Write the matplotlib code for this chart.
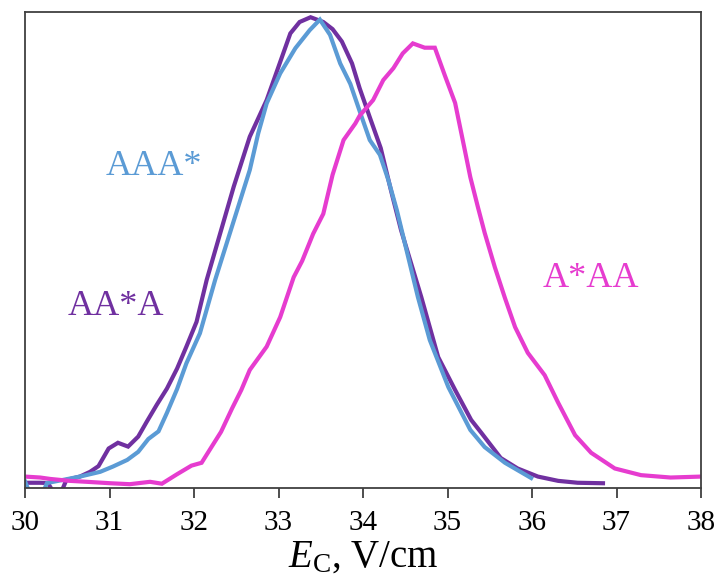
import matplotlib
matplotlib.use("Agg")
import matplotlib.pyplot as plt

plt.rcParams['font.family'] = ['Liberation Serif', 'DejaVu Serif']
plt.rcParams['mathtext.fontset'] = 'custom'
plt.rcParams['mathtext.rm'] = 'Liberation Serif'
plt.rcParams['mathtext.it'] = 'Liberation Serif:italic'

# AA*A (purple)
aa_a_x = [30.00, 30.18, 30.27, 30.32, 30.38, 30.44, 30.49, 30.65, 30.77, 30.87,
          30.99, 31.10, 31.22, 31.34, 31.44, 31.56, 31.68, 31.80, 31.91, 32.03,
          32.15, 32.47, 32.66, 32.86, 33.14, 33.25, 33.38, 33.53, 33.64, 33.75,
          33.87, 33.96, 34.08, 34.21, 34.33, 34.45, 34.69, 34.89, 35.09, 35.28,
          35.40, 35.63, 35.83, 36.07, 36.31, 36.54, 36.84]
aa_a_y = [1.1, 1.1, 1.05, -0.4, -1.5, -0.4, 1.7, 2.4, 3.4, 4.6,
          8.3, 9.5, 8.7, 10.8, 13.9, 17.5, 20.9, 25.1, 29.7, 34.9,
          43.7, 63.3, 73.8, 81.5, 95.5, 97.9, 98.9, 97.9, 96.4, 93.8,
          89.2, 84.0, 77.9, 71.4, 62.6, 54.2, 40.1, 27.5, 20.6, 14.3,
          11.6, 6.3, 4.1, 2.4, 1.5, 1.1, 1.0]

# AAA* (blue)
aaa_x = [30.00, 30.05, 30.21, 30.26, 30.45, 30.65, 30.89, 31.04, 31.21, 31.34,
         31.46, 31.58, 31.68, 31.80, 31.91, 32.07, 32.25, 32.66, 32.76, 32.86,
         33.02, 33.20, 33.37, 33.49, 33.61, 33.73, 33.85, 33.96, 34.08, 34.20,
         34.30, 34.40, 34.65, 34.79, 35.01, 35.27, 35.44, 35.68, 35.99]
aaa_y = [1.4, -0.8, -1.1, 1.05, 1.7, 2.4, 3.4, 4.5, 5.9, 7.6,
         10.3, 11.9, 15.8, 20.8, 26.2, 32.5, 43.7, 66.8, 74.5, 80.8,
         87.1, 92.4, 96.2, 98.4, 95.2, 89.2, 84.9, 79.2, 73.1, 70.0,
         64.7, 58.4, 40.1, 31.1, 21.2, 12.2, 8.6, 5.3, 2.1]

# A*AA (pink)
a_aa_x = [30.00, 30.18, 30.30, 30.53, 30.73, 31.01, 31.24, 31.48, 31.62, 31.80,
          31.97, 32.09, 32.21, 32.32, 32.45, 32.56, 32.66, 32.86, 33.02, 33.10,
          33.18, 33.28, 33.41, 33.53, 33.64, 33.77, 33.91, 33.96, 34.12, 34.24,
          34.36, 34.47, 34.59, 34.73, 34.85, 34.97, 35.09, 35.20, 35.27, 35.36,
          35.44, 35.56, 35.68, 35.80, 35.95, 36.15, 36.31, 36.51, 36.70, 36.98,
          37.29, 37.64, 38.00]
a_aa_y = [2.4, 2.2, 1.9, 1.5, 1.3, 1.0, 0.8, 1.3, 0.9, 2.9,
          4.7, 5.3, 8.7, 11.8, 16.7, 20.6, 24.8, 29.7, 35.9, 40.1,
          44.3, 47.7, 53.4, 57.6, 65.8, 73.1, 76.6, 78.2, 81.5, 85.7,
          88.2, 91.3, 93.4, 92.5, 92.5, 86.6, 80.9, 71.4, 65.3, 59.0,
          53.6, 46.4, 39.9, 33.8, 28.4, 23.7, 17.9, 11.1, 7.4, 4.1,
          2.7, 2.2, 2.4]

x_ticks = [30, 31, 32, 33, 34, 35, 36, 37, 38]

c_purple = '#7030A0'
c_blue = '#5B9BD5'
c_pink = '#E63CCF'

fig = plt.figure(figsize=(7.17, 5.86), dpi=100)
ax = fig.add_axes([25/717, 98/586, 676/717, 476/586])

lw = 3.0
ax.plot(aa_a_x, aa_a_y, color=c_purple, lw=lw, solid_joinstyle='miter')
ax.plot(aaa_x, aaa_y, color=c_blue, lw=lw, solid_joinstyle='miter')
ax.plot(a_aa_x, a_aa_y, color=c_pink, lw=lw, solid_joinstyle='miter')

ax.set_xlim(30, 38)
ax.set_ylim(0, 100)
ax.set_xticks(x_ticks)
ax.set_xticklabels([str(t) for t in x_ticks])
ax.set_yticks([])
ax.tick_params(axis='x', direction='out', length=7, width=1.3, color='#404040',
               labelsize=21, pad=9)
for s in ax.spines.values():
    s.set_color('#404040')
    s.set_linewidth(1.3)

ax.set_xlabel(r'$E_{\mathrm{C}}$, V/cm', fontsize=28, labelpad=2)

ax.text(31.52, 65.8, 'AAA*', color=c_blue, fontsize=26, ha='center', va='baseline')
ax.text(31.07, 36.3, 'AA*A', color=c_purple, fontsize=26, ha='center', va='baseline')
ax.text(36.70, 42.2, 'A*AA', color=c_pink, fontsize=26, ha='center', va='baseline')

fig.savefig('out.png', dpi=100)
